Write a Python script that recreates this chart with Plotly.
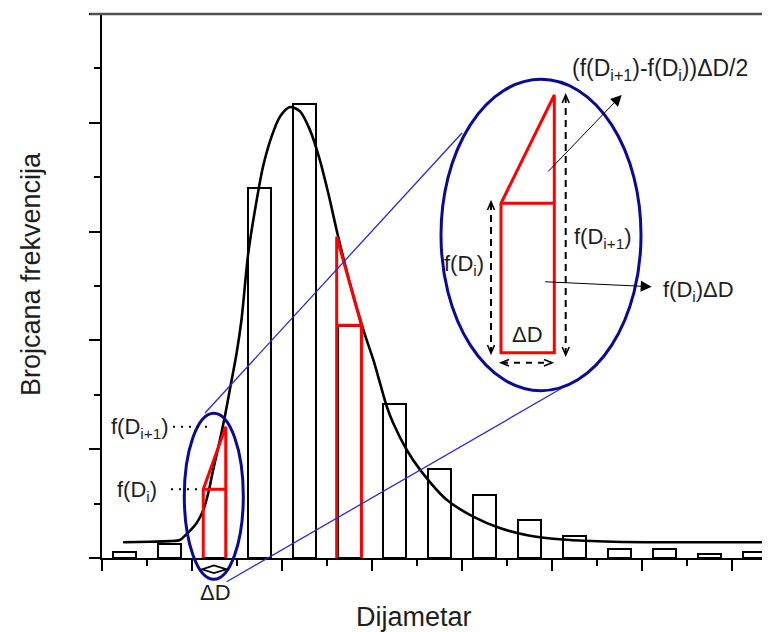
import plotly.graph_objects as go

# ---------------- data ----------------
bin_centers = [0.5, 1.5, 2.5, 3.5, 4.5, 5.5, 6.5, 7.5, 8.5, 9.5, 10.5, 11.5, 12.5, 13.5, 14.5]
counts = [0.11, 0.26, 1.26, 6.80, 8.35, 4.27, 2.83, 1.64, 1.16, 0.69, 0.40, 0.165, 0.165, 0.074, 0.116]

curve_x = [0.47, 1.07, 1.51, 1.73, 1.88, 2.10, 2.25, 2.36, 2.47, 2.62, 2.73, 2.84, 2.99, 3.10,
           3.25, 3.44, 3.58, 3.77, 3.96, 4.18, 4.40, 4.62, 4.84, 5.03, 5.23, 5.49, 5.81, 6.03,
           6.18, 6.33, 6.47, 6.77, 7.07, 7.66, 8.25, 8.84, 9.51, 10.25, 11.36, 13.07, 14.84]
curve_y = [0.29, 0.30, 0.31, 0.33, 0.44, 0.64, 0.88, 1.19, 1.62, 2.17, 2.60, 3.09, 3.76, 4.38,
           5.60, 6.59, 7.20, 7.75, 8.12, 8.29, 8.21, 7.87, 7.32, 6.70, 5.97, 5.11, 4.19, 3.64,
           3.21, 2.78, 2.48, 1.99, 1.62, 1.07, 0.76, 0.55, 0.41, 0.34, 0.30, 0.29, 0.29]

# highlighted intervals [D_i, D_i+1] with f(D_i), f(D_i+1)
D_left = [2.25, 5.215]
D_right = [2.75, 5.765]
f_left = [1.263, 5.906]
f_right = [2.414, 4.278]

# ---------------- figure ----------------
FONT = "Liberation Sans, Arial, sans-serif"
TXT = "#1e1e1e"
BLUE_E = "#0a0a96"
BLUE_L = "#2a2ac8"

# the page body adds an 8px offset; positions below are given in page pixels
OFF = 8
FIG_W, FIG_H = 770 - OFF, 632 - OFF

fig = go.Figure()

fig.add_trace(go.Bar(x=bin_centers, y=counts, width=0.5,
                     marker=dict(color="rgba(0,0,0,0)", line=dict(color="black", width=2)),
                     hoverinfo="skip"))

fig.add_trace(go.Scatter(x=curve_x, y=curve_y, mode="lines",
                         line=dict(color="black", width=2.6, shape="spline", smoothing=0.8),
                         hoverinfo="skip"))

rx, ry = [], []
for xl, xr, fl, fr in zip(D_left, D_right, f_left, f_right):
    rx += [xl, xl, xr, xr, None, xl, xr, None]
    ry += [0, fl, fr, 0, None, min(fl, fr), min(fl, fr), None]
fig.add_trace(go.Scatter(x=rx, y=ry, mode="lines", line=dict(color="#ff0000", width=3),
                         hoverinfo="skip"))

X0, W, Y0, H = 102.0, 668.0, 558.0, 544.0
def px(x):
    return (x - X0) / W
def py(y):
    return (Y0 - y) / H

shapes = []
annots = []

def pline(x0, y0, x1, y1, color="black", width=2, dash="solid"):
    shapes.append(dict(type="line", xref="paper", yref="paper",
                       x0=px(x0), y0=py(y0), x1=px(x1), y1=py(y1),
                       line=dict(color=color, width=width, dash=dash)))

def ppath(pts, color="black", width=2, closed=False):
    d = "M " + " L ".join(f"{px(a):.5f},{py(b):.5f}" for a, b in pts)
    if closed:
        d += " Z"
    shapes.append(dict(type="path", xref="paper", yref="paper", path=d,
                       line=dict(color=color, width=width)))

def ptext(text, x, y, size=22, xanchor="center", yanchor="middle", angle=0):
    annots.append(dict(text=text, x=px(x), y=py(y), xref="paper", yref="paper",
                       showarrow=False, xanchor=xanchor, yanchor=yanchor, textangle=angle,
                       font=dict(family=FONT, size=size, color=TXT)))

# top frame line (extends over the y=10 tick)
shapes.append(dict(type="line", xref="paper", yref="paper", x0=px(90), x1=1.0, y0=1, y1=1,
                   line=dict(color="#505050", width=2.5)))

# blue tangent lines
pline(205, 413, 462, 133, color=BLUE_L, width=1.3)
pline(226.7, 581.7, 561.7, 388.3, color=BLUE_L, width=1.3)

# ellipses
shapes.append(dict(type="circle", xref="paper", yref="paper",
                   x0=px(184.3), x1=px(243.3), y0=py(579.3), y1=py(413.3),
                   line=dict(color=BLUE_E, width=3)))
shapes.append(dict(type="circle", xref="paper", yref="paper",
                   x0=px(441), x1=px(641), y0=py(390.7), y1=py(79.3),
                   line=dict(color=BLUE_E, width=3)))

# zoomed red shape inside big ellipse
ppath([(501, 352.7), (501, 203.3), (554.3, 95), (554.3, 352.7)], color="#ff0000", width=3, closed=True)
pline(501, 203.3, 554.3, 203.3, color="#ff0000", width=3)

# dashed double arrows
DASH = "7px,5px"
pline(491, 203, 491, 352, dash=DASH)
ppath([(487.5, 210), (491, 201.7), (494.5, 210)], width=1.6)
ppath([(487.5, 345), (491, 353.3), (494.5, 345)], width=1.6)
pline(565.7, 96, 565.7, 354, dash=DASH)
ppath([(562.2, 103), (565.7, 95), (569.2, 103)], width=1.6)
ppath([(562.2, 347), (565.7, 355), (569.2, 347)], width=1.6)
pline(502, 362.7, 551, 362.7, dash="6px,6px")
ppath([(509, 359.5), (501, 362.7), (509, 365.9)], width=1.6)
ppath([(544, 359.5), (552, 362.7), (544, 365.9)], width=1.6)

# small delta-D double arrow under small ellipse
ppath([(202, 569.3), (214, 565.5), (226.5, 569.3), (214, 573.1)], width=1.8, closed=True)

# dotted leader lines
pline(173, 426.7, 208, 426.7, dash="2px,6px", width=2)
pline(171, 489.3, 201, 489.3, dash="2px,6px", width=2)

# solid arrows
annots.append(dict(x=px(621.7), y=py(95), xref="paper", yref="paper", text="",
                   showarrow=True, ax=-75, ay=78, arrowhead=2, arrowsize=2.2,
                   arrowwidth=1, arrowcolor="black"))
annots.append(dict(x=px(651.7), y=py(286.7), xref="paper", yref="paper", text="",
                   showarrow=True, ax=-108, ay=-5, arrowhead=2, arrowsize=2.2,
                   arrowwidth=1, arrowcolor="black"))

# texts
ptext("f(D<sub>i+1</sub>)", 171, 428, xanchor="right")
ptext("f(D<sub>i</sub>)", 159, 491, xanchor="right")
ptext("ΔD", 215, 592)
ptext("f(D<sub>i</sub>)", 486, 265, xanchor="right")
ptext("f(D<sub>i+1</sub>)", 572, 238, xanchor="left")
ptext("ΔD", 527.5, 334)
ptext("f(D<sub>i</sub>)ΔD", 661, 291, xanchor="left")
ptext("(f(D<sub>i+1</sub>)-f(D<sub>i</sub>))ΔD/2", 570, 70, size=23, xanchor="left")

# axis titles
ptext("Brojcana frekvencija", 31, 274, size=27, angle=-90)
ptext("Dijametar", 414, 617, size=27)

fig.update_layout(
    width=FIG_W, height=FIG_H,
    margin=dict(l=102 - OFF, r=0, t=14 - OFF, b=FIG_H - (558 - OFF)),
    paper_bgcolor="white", plot_bgcolor="white",
    showlegend=False, bargap=0,
    shapes=shapes, annotations=annots,
    font=dict(family=FONT, color=TXT),
    xaxis=dict(range=[0, 668 / 45], showgrid=False, zeroline=False, showline=True,
               linecolor="black", linewidth=2, ticks="outside", ticklen=11, tickwidth=2,
               tickcolor="black", tick0=0, dtick=2, showticklabels=False,
               minor=dict(ticks="outside", ticklen=6, tickwidth=2, tickcolor="black",
                          tick0=0, dtick=1, showgrid=False)),
    yaxis=dict(range=[0, 10], showgrid=False, zeroline=False, showline=True,
               linecolor="black", linewidth=2, ticks="outside", ticklen=11, tickwidth=2,
               tickcolor="black", tick0=0, dtick=2, showticklabels=False,
               minor=dict(ticks="outside", ticklen=6, tickwidth=2, tickcolor="black",
                          tick0=0, dtick=1, showgrid=False)),
)

fig.write_html("out.html")
